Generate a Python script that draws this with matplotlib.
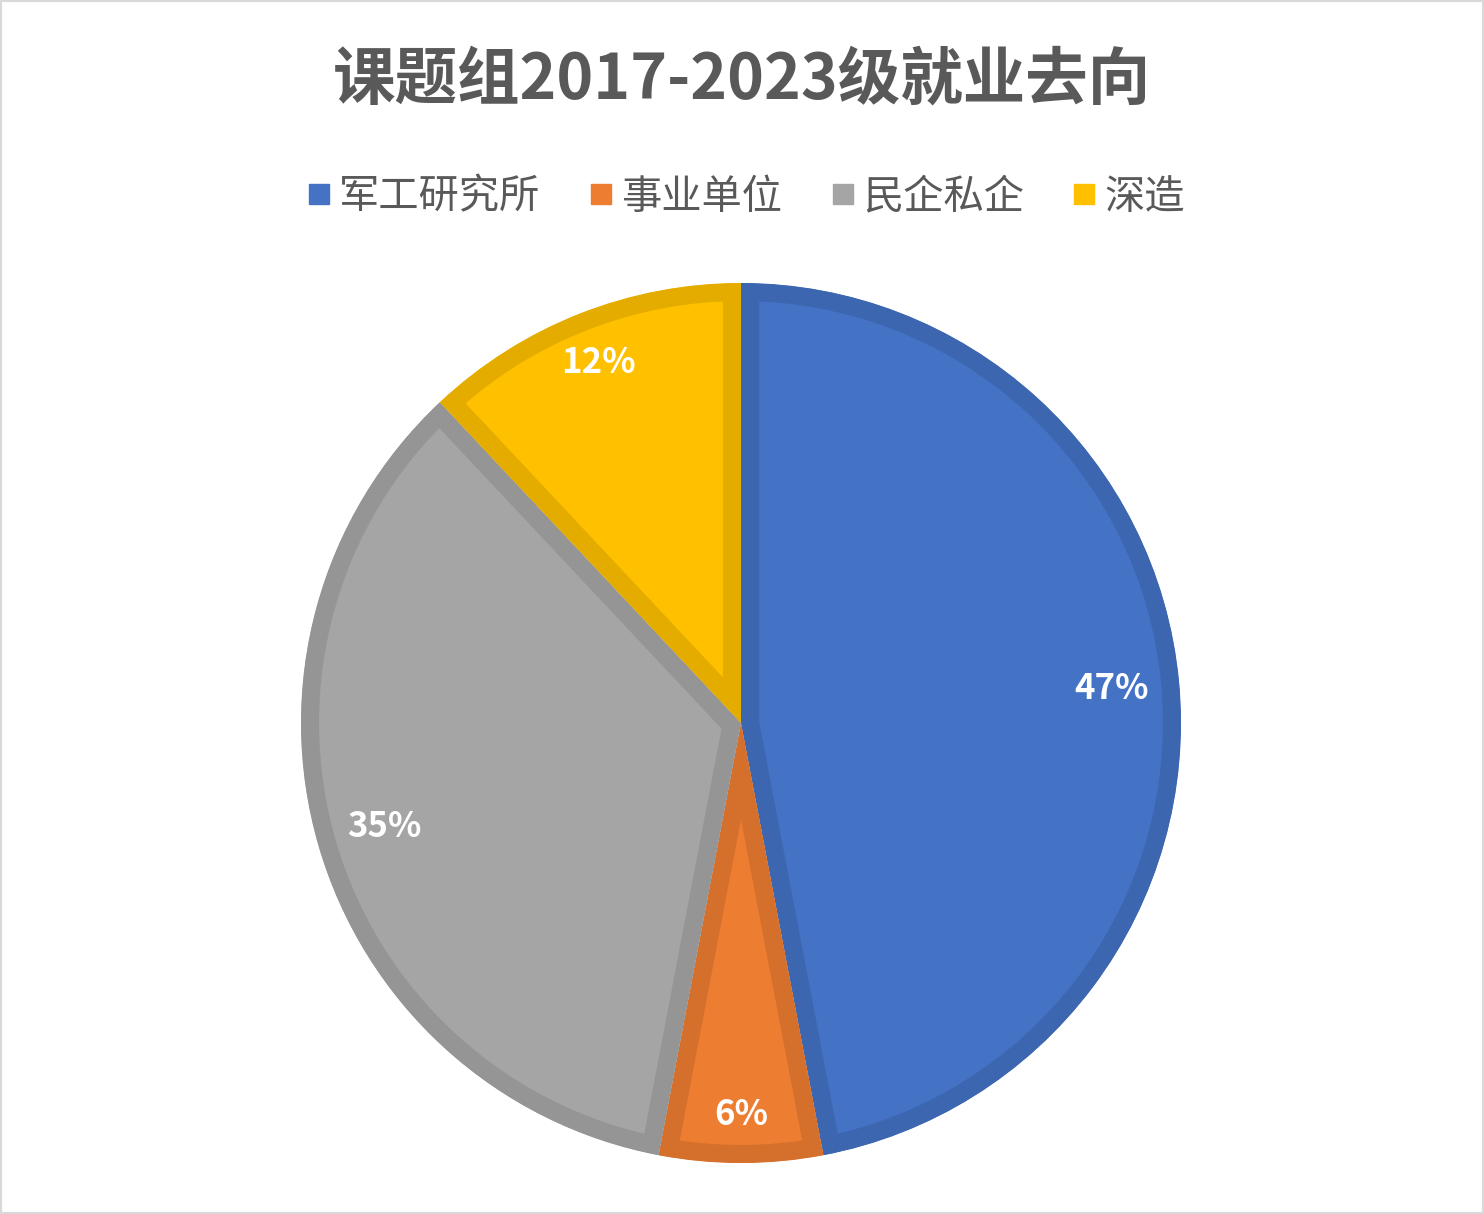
import matplotlib
matplotlib.use("Agg")
import matplotlib.pyplot as plt
from matplotlib.lines import Line2D
from matplotlib.patches import Rectangle
import numpy as np

plt.rcParams['font.family'] = ['Noto Sans CJK SC', 'DejaVu Sans']

# Data
categories = ["军工研究所", "事业单位", "民企私企", "深造"]
shares = [47, 6, 35, 12]
title = "课题组2017-2023级就业去向"

# Styling
fill_colors = ['#4472C4', '#ED7D31', '#A5A5A5', '#FFC000']
edge_colors = ['#3D66B0', '#D5702C', '#959595', '#E5AC00']
label_dist = [0.845, 0.89, 0.845, 0.88]

W, H = 1484, 1214
fig = plt.figure(figsize=(W / 100, H / 100), dpi=100)
ax = fig.add_axes([0, 0, 1, 1])

cx, cy, R = 741, H - 723, 440
wedges, _ = ax.pie(shares, startangle=90, counterclock=False,
                   colors=fill_colors, center=(cx, cy), radius=R,
                   wedgeprops=dict(linewidth=0))

# axes fill the figure, one data unit = one pixel
ax.set_aspect('auto')
ax.set_xlim(0, W)
ax.set_ylim(0, H)
ax.axis('off')

# inner stroke: thick edge clipped to the wedge itself
for w, ec in zip(wedges, edge_colors):
    w.set_edgecolor(ec)
    w.set_linewidth(26)
    w.set_clip_path(w)
    w.set_clip_on(True)

# percentage labels
cum = np.cumsum([0] + shares[:-1])
total = sum(shares)
for s, c0, d in zip(shares, cum, label_dist):
    ang = np.deg2rad(90 - (c0 + s / 2) / total * 360)
    ax.text(cx + d * R * np.cos(ang), cy + d * R * np.sin(ang), f"{s}%",
            ha='center', va='center', color='white', fontsize=25,
            fontweight='bold')

# title and legend
fig.text(0.5, 1 - 80 / H, title, ha='center', va='center', fontsize=45,
         fontweight='bold', color='#595959')

handles = [Line2D([], [], marker='s', linestyle='none', markersize=15,
                  markerfacecolor=c, markeredgecolor=c) for c in fill_colors]
fig.legend(handles, categories, loc='center', ncol=4,
           bbox_to_anchor=(0.5, 1 - 197 / H), frameon=False,
           fontsize=29, labelcolor='#595959', handletextpad=0.0,
           columnspacing=1.0, handlelength=1.0)

# light gray frame
fig.patches.append(Rectangle((0, 0), 1, 1, transform=fig.transFigure,
                             fill=False, edgecolor='#D9D9D9', linewidth=3))

fig.savefig("out.png", dpi=100)
